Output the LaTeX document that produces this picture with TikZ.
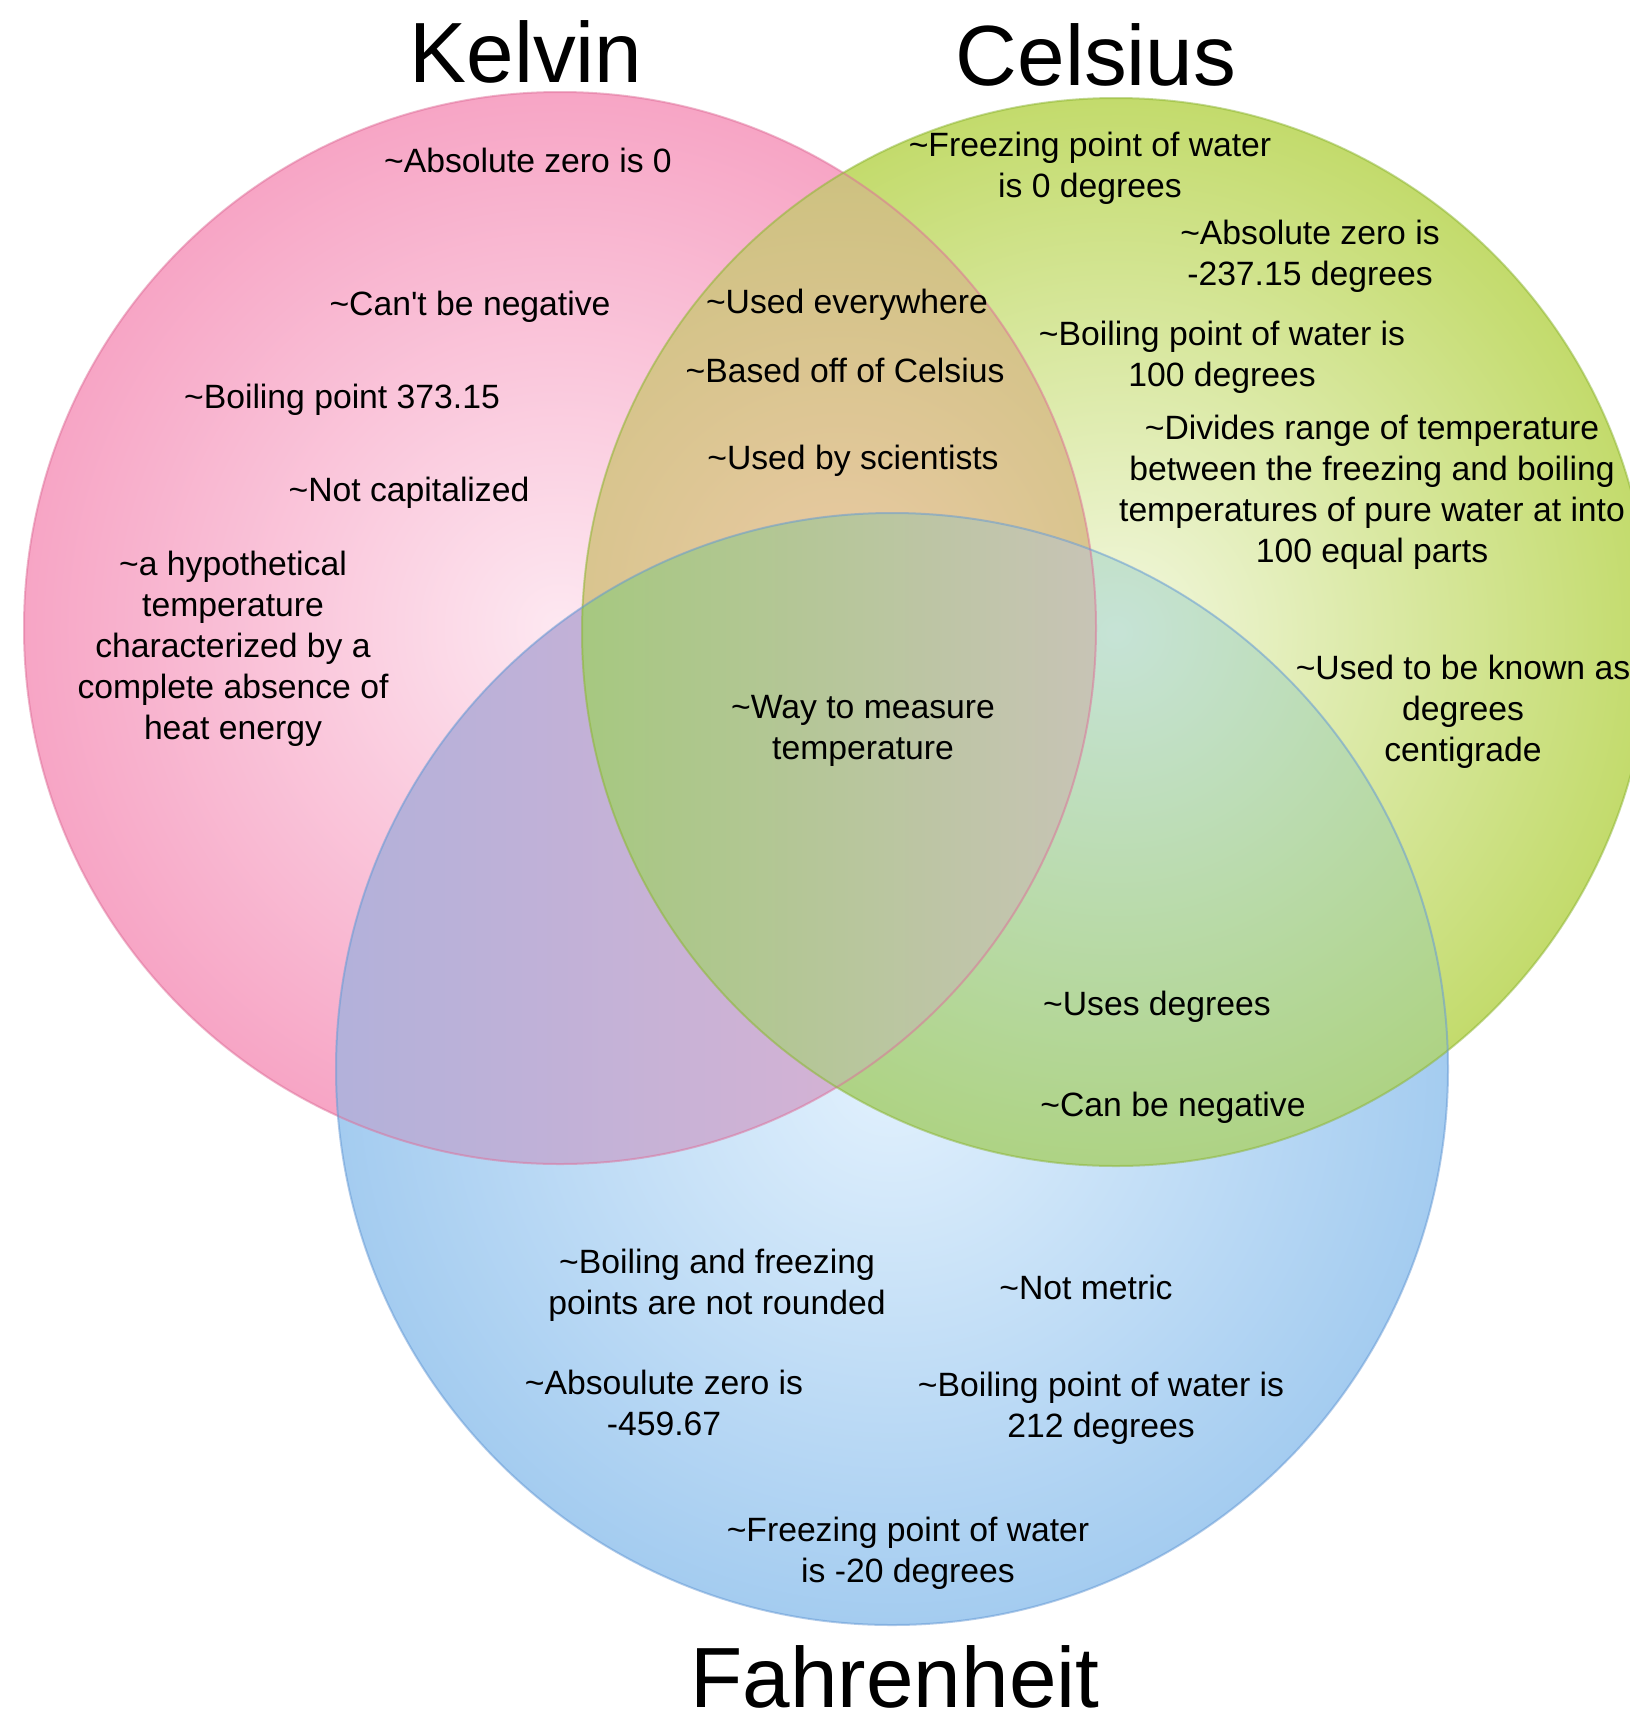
\documentclass[tikz,border=0pt]{standalone}
\usepackage{fontspec}
\setmainfont{Liberation Sans}[Ligatures=TeXOff]
\newcommand{\tildech}{\textasciitilde}
% single regions
\definecolor{Kout}{RGB}{247,165,197}
\definecolor{Kin}{RGB}{253,232,241}
\definecolor{Cout}{RGB}{195,219,108}
\definecolor{Cin}{RGB}{242,247,222}
\definecolor{Fout}{RGB}{164,204,240}
\definecolor{Fin}{RGB}{226,241,253}
% overlaps
\definecolor{KCout}{RGB}{202,192,124}
\definecolor{KCin}{RGB}{234,202,164}
\definecolor{KFleft}{RGB}{178,177,218}
\definecolor{KFright}{RGB}{212,178,212}
\definecolor{CFout}{RGB}{174,211,132}
\definecolor{CFin}{RGB}{198,227,214}
\definecolor{KCFleft}{RGB}{166,200,128}
\definecolor{KCFright}{RGB}{200,196,182}
% outlines
\definecolor{Kline}{RGB}{222,110,152}
\definecolor{Cline}{RGB}{140,180,50}
\definecolor{Fline}{RGB}{100,152,212}
\begin{document}
\begin{tikzpicture}[x=1pt,y=-1pt,
  lbl/.style={align=center, font=\fontsize{33.7}{41}\selectfont, inner sep=0pt},
  ttl/.style={font=\fontsize{85.5}{100}\selectfont, inner sep=0pt, anchor=base},
  setline/.style={line width=2pt, opacity=0.5}]
\useasboundingbox (0,0) rectangle (1630,1724);
\fill[white] (0,0) rectangle (1630,1724);
% circle centres
\coordinate (K) at (560,628);
\coordinate (C) at (1116,632);
\coordinate (F) at (892,1069);
\def\Kcirc{(K) circle[radius=536]}
\def\Ccirc{(C) circle[radius=534]}
\def\Fcirc{(F) circle[radius=556]}
% single circles
\shade[inner color=Kin, outer color=Kout] \Kcirc;
\shade[inner color=Cin, outer color=Cout] \Ccirc;
\shade[inner color=Fin, outer color=Fout] \Fcirc;
% Kelvin & Celsius
\begin{scope}
  \clip \Kcirc; \clip \Ccirc;
  \shade[inner color=KCin, outer color=KCout] (840,600) circle[radius=480];
\end{scope}
% Kelvin & Fahrenheit
\begin{scope}
  \clip \Kcirc; \clip \Fcirc;
  \shade[left color=KFleft, right color=KFright] (330,500) rectangle (850,1180);
\end{scope}
% Celsius & Fahrenheit
\begin{scope}
  \clip \Ccirc; \clip \Fcirc;
  \shade[inner color=CFin, outer color=CFout] \Ccirc;
\end{scope}
% all three
\begin{scope}
  \clip \Kcirc; \clip \Ccirc; \clip \Fcirc;
  \shade[left color=KCFleft, right color=KCFright] (580,500) rectangle (1100,1100);
\end{scope}
% outlines
\draw[setline, draw=Kline] \Kcirc;
\draw[setline, draw=Cline] \Ccirc;
\draw[setline, draw=Fline] \Fcirc;
% titles
\node[ttl] (tK) at (526,82) {Kelvin};
\node[ttl] (tC) at (1096,85) {Celsius};
\node[ttl] (tF) at (895,1707) {Fahrenheit};
% Kelvin only
\node[lbl] (k1) at (528,160) {\tildech Absolute zero is 0};
\node[lbl] (k2) at (470,307) {\tildech Can't be negative};
\node[lbl] (k3) at (342,400) {\tildech Boiling point 373.15};
\node[lbl] (k4) at (409,493) {\tildech Not capitalized};
\node[lbl] (k5) at (233,649) {\tildech a hypothetical\\temperature\\characterized by a\\complete absence of\\heat energy};
% Kelvin & Celsius
\node[lbl] (kc1) at (847,305) {\tildech Used everywhere};
\node[lbl] (kc2) at (845,370) {\tildech Based off of Celsius};
\node[lbl] (kc3) at (853,461) {\tildech Used by scientists};
% all three
\node[lbl] (kcf) at (863,731) {\tildech Way to measure\\temperature};
% Celsius only
\node[lbl] (c1) at (1090,168) {\tildech Freezing point of water\\is 0 degrees};
\node[lbl] (c2) at (1310,256) {\tildech Absolute zero is\\-237.15 degrees};
\node[lbl] (c3) at (1222,357) {\tildech Boiling point of water is\\100 degrees};
\node[lbl] (c4) at (1372,492) {\tildech Divides range of temperature\\between the freezing and boiling\\temperatures of pure water at into\\100 equal parts};
\node[lbl] (c5) at (1463,712) {\tildech Used to be known as\\degrees\\centigrade};
% Celsius & Fahrenheit
\node[lbl] (cf1) at (1157,1007) {\tildech Uses degrees};
\node[lbl] (cf2) at (1173,1108) {\tildech Can be negative};
% Fahrenheit only
\node[lbl] (f1) at (717,1285) {\tildech Boiling and freezing\\points are not rounded};
\node[lbl] (f2) at (1086,1287) {\tildech Not metric};
\node[lbl] (f3) at (664,1403) {\tildech Absoulute zero is\\-459.67};
\node[lbl] (f4) at (1101,1408) {\tildech Boiling point of water is\\212 degrees};
\node[lbl] (f5) at (908,1553) {\tildech Freezing point of water\\is -20 degrees};
\end{tikzpicture}
\end{document}
